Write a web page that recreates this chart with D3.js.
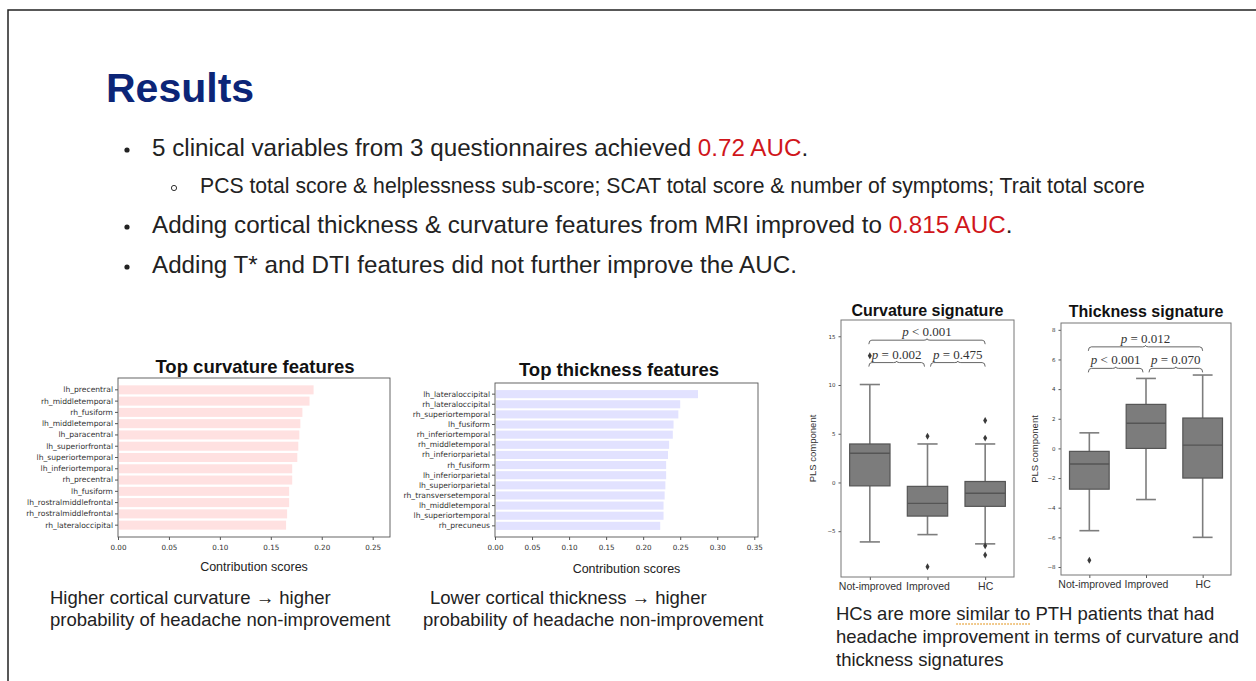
<!DOCTYPE html>
<html>
<head>
<meta charset="utf-8">
<title>Results</title>
<style>
  body { margin: 0; background: #fff; }
  svg { display: block; background: #fff; font-family: "Liberation Sans", Arial, sans-serif; }
  .small-axis text { font-family: "DejaVu Sans", sans-serif; fill: #333; }
  .small-axis line { stroke: #555; }
</style>
</head>
<body>
<div id="slide"></div>
<script src="https://cdnjs.cloudflare.com/ajax/libs/d3/7.8.5/d3.min.js"></script>
<script>
// ---- data ----
const bullets = [
  "5 clinical variables from 3 questionnaires achieved ",
  "PCS total score & helplessness sub-score; SCAT total score & number of symptoms; Trait total score",
  "Adding cortical thickness & curvature features from MRI improved to ",
  "Adding T* and DTI features did not further improve the AUC."
]
const aucs = ["0.72 AUC", "", "0.815 AUC", ""]

const curvFeatures = ["lh_precentral","rh_middletemporal","rh_fusiform","lh_middletemporal","lh_paracentral",
  "lh_superiorfrontal","lh_superiortemporal","lh_inferiortemporal","rh_precentral","lh_fusiform",
  "lh_rostralmiddlefrontal","rh_rostralmiddlefrontal","rh_lateraloccipital"]
const curvScores = [0.192, 0.188, 0.181, 0.179, 0.178, 0.177, 0.176, 0.171, 0.171, 0.168, 0.168, 0.166, 0.165]
const curvTicks = [0, 0.05, 0.10, 0.15, 0.20, 0.25]

const thickFeatures = ["lh_lateraloccipital","rh_lateraloccipital","rh_superiortemporal","lh_fusiform",
  "rh_inferiortemporal","rh_middletemporal","rh_inferiorparietal","rh_fusiform","lh_inferiorparietal",
  "lh_superiorparietal","rh_transversetemporal","lh_middletemporal","lh_superiortemporal","rh_precuneus"]
const thickScores = [0.274, 0.250, 0.2475, 0.241, 0.240, 0.235, 0.2335, 0.231, 0.231, 0.230, 0.229, 0.2275, 0.2275, 0.223]
const thickTicks = [0, 0.05, 0.10, 0.15, 0.20, 0.25, 0.30, 0.35]

const groups = ["Not-improved", "Improved", "HC"]
// [lower whisker, q1, median, q3, upper whisker]
const curvStats = [[-6.1, -0.35, 3.0, 3.95, 10.05], [-5.35, -3.45, -2.15, -0.4, 3.95], [-6.3, -2.45, -1.1, 0.1, 3.95]]
const curvOutliers = [[13.0], [4.75, -8.65], [6.35, 4.55, -6.5, -7.45]]
const curvYTicks = [-5, 0, 5, 10, 15]
const curvPvals = [
  { a: 0, b: 2, h: 14.6, label: "< 0.001" },
  { a: 0, b: 1, h: 12.3, label: "= 0.002" },
  { a: 1, b: 2, h: 12.3, label: "= 0.475" }
]

const thickStats = [[-5.55, -2.75, -1.05, -0.2, 1.05], [-3.45, 0, 1.7, 2.97, 4.72], [-6.0, -2.0, 0.22, 2.05, 4.95]]
const thickOutliers = [[-7.55], [], []]
const thickYTicks = [-8, -6, -4, -2, 0, 2, 4, 6, 8]
const thickPvals = [
  { a: 0, b: 2, h: 6.85, label: "= 0.012" },
  { a: 0, b: 1, h: 5.4, label: "< 0.001" },
  { a: 1, b: 2, h: 5.4, label: "= 0.070" }
]

const captions = [
  { x: 50, y: 604, lines: ["Higher cortical curvature \u2192 higher", "probability of headache non-improvement"] },
  { x: 430, y: 604, lines: ["Lower cortical thickness \u2192 higher"] },
  { x: 423, y: 626, lines: ["probability of headache non-improvement"] }
]
const hcLines = ["HCs are more similar to PTH patients that had", "headache improvement in terms of curvature and", "thickness signatures"]

// ---- slide ----
const W = 1256, H = 681
const svg = d3.select("#slide").append("svg").attr("width", W).attr("height", H)

// slide border (top + left)
svg.append("path").attr("d", `M8,${H} L8,10 L${W},10`)
  .attr("fill", "none").attr("stroke", "#222").attr("stroke-width", 1.5)

svg.append("text").attr("x", 106).attr("y", 102)
  .attr("font-size", 41).attr("font-weight", "bold").attr("fill", "#0c2577")
  .text("Results")

const bulletY = [156, 193, 233, 273]
bullets.forEach((b, i) => {
  const sub = i === 1
  const x = sub ? 200 : 152
  if (sub) {
    svg.append("circle").attr("cx", 174).attr("cy", bulletY[i] - 5).attr("r", 2.6)
      .attr("fill", "none").attr("stroke", "#333").attr("stroke-width", 1)
  } else {
    svg.append("circle").attr("cx", 127).attr("cy", bulletY[i] - 6).attr("r", 2.6).attr("fill", "#222")
  }
  const t = svg.append("text").attr("x", x).attr("y", bulletY[i])
    .attr("font-size", sub ? 21.2 : 24.2).attr("fill", "#222")
  t.append("tspan").text(b)
  if (aucs[i]) {
    t.append("tspan").attr("fill", "#d0161b").text(aucs[i])
    t.append("tspan").text(".")
  }
})

// ---- horizontal bar charts ----
function barChart(o) {
  const x = d3.scaleLinear().domain([0, o.xMax]).range([o.x0, o.x1])
  const y = d3.scaleBand().domain(o.features).range([o.y0, o.y1])
    .paddingInner(0.2).paddingOuter(o.outer)
  const g = svg.append("g")

  g.selectAll("rect.bar").data(o.scores).join("rect")
    .attr("class", "bar")
    .attr("x", x(0) + 1)
    .attr("y", (d, i) => y(o.features[i]))
    .attr("width", d => x(d) - x(0) - 1)
    .attr("height", y.bandwidth())
    .attr("fill", o.color)

  g.append("g").attr("class", "small-axis")
    .attr("transform", `translate(${o.x0},0)`)
    .call(d3.axisLeft(y).tickSize(3).tickPadding(2).tickSizeOuter(0))
    .call(a => a.select(".domain").remove())
    .selectAll("text").attr("font-size", 7.6)

  g.append("g").attr("class", "small-axis")
    .attr("transform", `translate(0,${o.y1})`)
    .call(d3.axisBottom(x).tickValues(o.ticks).tickFormat(d3.format(".2f")).tickSize(3).tickPadding(5))
    .call(a => a.select(".domain").remove())
    .selectAll("text").attr("font-size", 7.2)

  g.append("rect").attr("x", o.x0).attr("y", o.y0)
    .attr("width", o.x1 - o.x0).attr("height", o.y1 - o.y0)
    .attr("fill", "none").attr("stroke", "#555").attr("stroke-width", 0.9)

  g.append("text").attr("x", o.titleX).attr("y", o.titleY)
    .attr("text-anchor", "middle").attr("font-size", 18.5).attr("font-weight", "bold").attr("fill", "#111")
    .text(o.title)
  g.append("text").attr("x", (o.x0 + o.x1) / 2).attr("y", o.labelY)
    .attr("text-anchor", "middle").attr("font-size", 12.5).attr("fill", "#222")
    .text("Contribution scores")
}

barChart({ features: curvFeatures, scores: curvScores, ticks: curvTicks, xMax: 0.267, color: "#ffe1e1",
  x0: 118, x1: 390, y0: 378, y1: 537, outer: 0.65,
  title: "Top curvature features", titleX: 255, titleY: 373, labelY: 571 })

barChart({ features: thickFeatures, scores: thickScores, ticks: thickTicks, xMax: 0.355, color: "#e2e2ff",
  x0: 495, x1: 758, y0: 383, y1: 537, outer: 0.7,
  title: "Top thickness features", titleX: 619, titleY: 376, labelY: 573 })

// ---- box plots ----
function boxChart(o) {
  const x = d3.scalePoint().domain(groups).range([o.x0, o.x1]).padding(0.5)
  const y = d3.scaleLinear().domain(o.yDomain).range([o.y1, o.y0])
  const bw = x.step() * 0.7
  const g = svg.append("g")

  const box = g.selectAll("g.box").data(o.stats).join("g").attr("class", "box")
    .attr("transform", (d, i) => `translate(${x(groups[i])},0)`)

  // whiskers
  box.append("line").attr("y1", d => y(d[0])).attr("y2", d => y(d[1]))
    .attr("stroke", "#7d7d7d").attr("stroke-width", 1.6)
  box.append("line").attr("y1", d => y(d[3])).attr("y2", d => y(d[4]))
    .attr("stroke", "#7d7d7d").attr("stroke-width", 1.6)
  box.append("line").attr("x1", -bw / 4).attr("x2", bw / 4).attr("y1", d => y(d[0])).attr("y2", d => y(d[0]))
    .attr("stroke", "#7d7d7d").attr("stroke-width", 1.6)
  box.append("line").attr("x1", -bw / 4).attr("x2", bw / 4).attr("y1", d => y(d[4])).attr("y2", d => y(d[4]))
    .attr("stroke", "#7d7d7d").attr("stroke-width", 1.6)
  // box + median
  box.append("rect").attr("x", -bw / 2).attr("width", bw)
    .attr("y", d => y(d[3])).attr("height", d => y(d[1]) - y(d[3]))
    .attr("fill", "#7c7c7c").attr("stroke", "#555").attr("stroke-width", 1.2)
  box.append("line").attr("x1", -bw / 2).attr("x2", bw / 2).attr("y1", d => y(d[2])).attr("y2", d => y(d[2]))
    .attr("stroke", "#555").attr("stroke-width", 1.4)

  // outliers (diamonds)
  box.each(function (d, i) {
    d3.select(this).selectAll("path.out").data(o.outliers[i]).join("path")
      .attr("class", "out")
      .attr("d", d3.symbol(d3.symbolDiamond, 14))
      .attr("transform", v => `translate(0,${y(v)})`)
      .attr("fill", "#3a3a3a")
  })

  // axes
  g.append("g").attr("class", "small-axis")
    .attr("transform", `translate(${o.x0},0)`)
    .call(d3.axisLeft(y).tickValues(o.yTicks).tickSize(2.5).tickPadding(3).tickSizeOuter(0))
    .call(a => a.select(".domain").remove())
    .selectAll("text").attr("font-size", 5.5)
  g.append("g")
    .attr("transform", `translate(0,${o.y1})`)
    .call(d3.axisBottom(x).tickSize(3).tickPadding(3).tickSizeOuter(0))
    .call(a => a.select(".domain").remove())
    .call(a => a.selectAll("line").attr("stroke", "#555"))
    .selectAll("text").attr("font-size", 10.5).attr("fill", "#333")
    .attr("font-family", "Liberation Sans, Arial, sans-serif")

  g.append("rect").attr("x", o.x0).attr("y", o.y0)
    .attr("width", o.x1 - o.x0).attr("height", o.y1 - o.y0)
    .attr("fill", "none").attr("stroke", "#777").attr("stroke-width", 1)

  g.append("text").attr("transform", `translate(${o.labelX},${(o.y0 + o.y1) / 2}) rotate(-90)`)
    .attr("text-anchor", "middle").attr("font-size", 9.5).attr("fill", "#333")
    .text("PLS component")
  g.append("text").attr("x", (o.x0 + o.x1) / 2).attr("y", o.titleY)
    .attr("text-anchor", "middle").attr("font-size", 16).attr("font-weight", "bold").attr("fill", "#111")
    .text(o.title)

  // significance brackets
  o.pvals.forEach(p => {
    const adj = p.b - p.a === 1
    const xa = x(groups[p.a]) + (adj && p.a > 0 ? 3 : -1)
    const xb = x(groups[p.b]) + (adj && p.b < 2 ? -3 : 0)
    const yy = y(p.h), xm = (xa + xb) / 2
    g.append("path")
      .attr("d", `M${xa},${yy + 4} Q${xa},${yy} ${xa + 3},${yy} L${xm - 3},${yy} Q${xm},${yy} ${xm},${yy - 1.5}` +
        ` Q${xm},${yy} ${xm + 3},${yy} L${xb - 3},${yy} Q${xb},${yy} ${xb},${yy + 4}`)
      .attr("fill", "none").attr("stroke", "#555").attr("stroke-width", 0.9)
    const t = g.append("text").attr("x", xm).attr("y", yy - 4)
      .attr("text-anchor", "middle").attr("font-family", "Liberation Serif, serif")
      .attr("font-size", 13).attr("fill", "#333")
    t.append("tspan").attr("font-style", "italic").text("p")
    t.append("tspan").text(" " + p.label)
  })
}

boxChart({ stats: curvStats, outliers: curvOutliers, yTicks: curvYTicks, pvals: curvPvals,
  yDomain: [-9.7, 16.67], x0: 841, x1: 1014, y0: 320, y1: 577, labelX: 816,
  title: "Curvature signature", titleY: 316 })

boxChart({ stats: thickStats, outliers: thickOutliers, yTicks: thickYTicks, pvals: thickPvals,
  yDomain: [-8.54, 8.46], x0: 1061, x1: 1231, y0: 323, y1: 575, labelX: 1038,
  title: "Thickness signature", titleY: 317 })

// ---- captions ----
captions.forEach(c => {
  c.lines.forEach((l, i) => {
    svg.append("text").attr("x", c.x).attr("y", c.y + i * 22)
      .attr("font-size", 18.5).attr("fill", "#222").text(l)
  })
})
hcLines.forEach((l, i) => {
  const t = svg.append("text").attr("x", 836).attr("y", 620 + i * 23)
    .attr("font-size", 18.5).attr("fill", "#222").text(l)
  if (i === 0) {
    // spell-check style dotted underline under "similar to"
    const node = t.node()
    const start = node.getSubStringLength(0, 13)
    const len = node.getSubStringLength(13, 10)
    svg.append("line").attr("x1", 836 + start).attr("x2", 836 + start + len)
      .attr("y1", 624).attr("y2", 624)
      .attr("stroke", "#e8a33a").attr("stroke-width", 1.5).attr("stroke-dasharray", "1.5,1.5")
  }
})
</script>
</body>
</html>
